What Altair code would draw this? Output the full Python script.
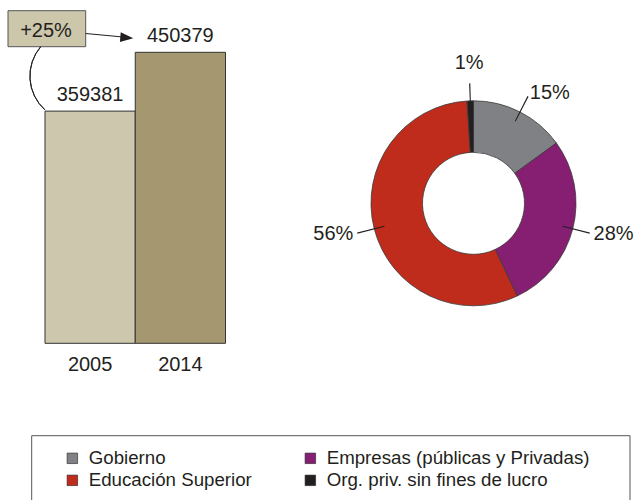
import altair as alt
import pandas as pd

# ---- data ----
years = ["2005", "2014"]
researchers = [359381, 450379]

sectors = ["Gobierno", "Empresas (públicas y Privadas)", "Educación Superior",
           "Org. priv. sin fines de lucro"]
shares = [15, 28, 56, 1]

# ---- styles ----
bar_colors = ["#CDC7AE", "#A59871"]
sector_colors = ["#808184", "#861F72", "#BF2C1B", "#231F20"]
INK = "#231F20"
FONT = "Liberation Sans"

bars_df = pd.DataFrame({"year": years, "value": researchers})
donut_df = pd.DataFrame({"sector": sectors, "pct": shares, "idx": list(range(len(sectors)))})
one = pd.DataFrame({"k": [0]})
growth = f"+{round((researchers[1] / researchers[0] - 1) * 100)}%"

# ---- bar part ----
x_enc = alt.X("year:O", scale=alt.Scale(domain=years, range=[45, 225.5],
                                        paddingInner=0, paddingOuter=0), axis=None)
y_enc = alt.Y("value:Q", scale=alt.Scale(domain=[0, max(researchers)], range=[343.3, 52.3],
                                         nice=False, zero=True), axis=None)

bars = alt.Chart(bars_df).mark_bar(stroke="#333333", strokeWidth=1).encode(
    x=x_enc, y=y_enc,
    fill=alt.Fill("year:O", scale=alt.Scale(domain=years, range=bar_colors), legend=None),
)
bar_vals = alt.Chart(bars_df).mark_text(dy=-10, fontSize=20, font=FONT, color=INK,
                                        baseline="alphabetic").encode(
    x=x_enc, y=y_enc, text=alt.Text("value:Q", format="d"))
year_lbl = alt.Chart(bars_df).mark_text(fontSize=20, font=FONT, color=INK,
                                        baseline="alphabetic").encode(
    x=x_enc, y=alt.value(371), text="year:O")

# growth annotation
box = alt.Chart(one).mark_rect(fill="#CCC6AB", stroke="#555555", strokeWidth=1).encode(
    x=alt.value(8), x2=alt.value(85.7), y=alt.value(10.7), y2=alt.value(46.7))
box_txt = alt.Chart(one).mark_text(text=growth, fontSize=20, font=FONT, color=INK,
                                   baseline="alphabetic").encode(
    x=alt.value(46), y=alt.value(37.3))
arrow = alt.Chart(one).mark_rule(color=INK, strokeWidth=1).encode(
    x=alt.value(85.7), y=alt.value(33.5), x2=alt.value(121), y2=alt.value(36.8))
arrow_head = alt.Chart(one).mark_point(shape="M-1,-0.75L1,0L-1,0.75Z", size=169, filled=True,
                                       color=INK, opacity=1, angle=5).encode(
    x=alt.value(126.8), y=alt.value(37.6))
connector = alt.Chart(one).mark_arc(filled=False, color=INK, stroke=INK, strokeWidth=1,
                                    radius=45.5, radius2=45.5, theta=3.875, theta2=5.416).encode(
    x=alt.value(75.4), y=alt.value(76.1))

# ---- donut part ----
CX, CY = 473.5, 203.3
theta_scale = alt.Scale(domain=[0, 100])

legend_box = alt.Chart(one).mark_rect(fill="white", stroke="#555555", strokeWidth=1).encode(
    x=alt.value(31.7), x2=alt.value(630), y=alt.value(435.7), y2=alt.value(540))

arcs = alt.Chart(donut_df).mark_arc(radius=102.5, radius2=51, stroke="#3a3a3a",
                                    strokeWidth=0.8).encode(
    x=alt.value(CX), y=alt.value(CY),
    theta=alt.Theta("pct:Q", stack=True, scale=theta_scale),
    order=alt.Order("idx:Q"),
    color=alt.Color("sector:N",
                    scale=alt.Scale(domain=sectors, range=sector_colors),
                    legend=alt.Legend(title=None, orient="none", direction="horizontal",
                                      legendX=63, legendY=448.5,
                                      columns=2, columnPadding=49, rowPadding=2.5,
                                      symbolType="square", symbolSize=110,
                                      symbolStrokeColor=INK, symbolStrokeWidth=0.6,
                                      symbolOpacity=1, labelFont=FONT, labelFontSize=18.7,
                                      labelColor=INK, labelOffset=7, padding=0,
                                      labelLimit=400)),
)

pos = alt.Chart(donut_df).transform_window(
    cum="sum(pct)", sort=[alt.SortField("idx")], frame=[None, 0]
).transform_calculate(
    mid="datum.cum - datum.pct / 2",
    t0="datum.cum - datum.pct / 2 - 0.08",
    t1="datum.cum - datum.pct / 2 + 0.08",
    label="datum.pct + '%'",
)

leaders = pos.mark_arc(radius=120, radius2=92, color=INK).encode(
    x=alt.value(CX), y=alt.value(CY),
    theta=alt.Theta("t0:Q", stack=None, scale=theta_scale),
    theta2="t1:Q",
)

txt_style = dict(fontSize=20, font=FONT, color=INK, baseline="middle")
lbl_enc = dict(
    x=alt.value(CX), y=alt.value(CY),
    theta=alt.Theta("mid:Q", stack=None, scale=theta_scale),
    text="label:N",
)
# labels near the top: centred beyond the leader
lbl_top = pos.transform_filter("datum.mid < 3 || datum.mid > 97").mark_text(
    radius=140, align="center", **txt_style).encode(**lbl_enc)
# right half: start just after the leader
lbl_right = pos.transform_filter("datum.mid >= 3 && datum.mid < 50").mark_text(
    radius=124, align="left", **txt_style).encode(**lbl_enc)
# left half: end just before the leader
lbl_left = pos.transform_filter("datum.mid >= 50 && datum.mid <= 97").mark_text(
    radius=124, align="right", **txt_style).encode(**lbl_enc)

chart = alt.layer(
    legend_box, bars, bar_vals, year_lbl, box, box_txt, arrow, arrow_head, connector,
    arcs, leaders, lbl_top, lbl_right, lbl_left,
).properties(
    width=636, height=500, padding=0,
    autosize=alt.AutoSizeParams(type="none"),
).configure_view(stroke=None)

chart.save("out.html", embed_options={"renderer": "svg", "actions": False})
